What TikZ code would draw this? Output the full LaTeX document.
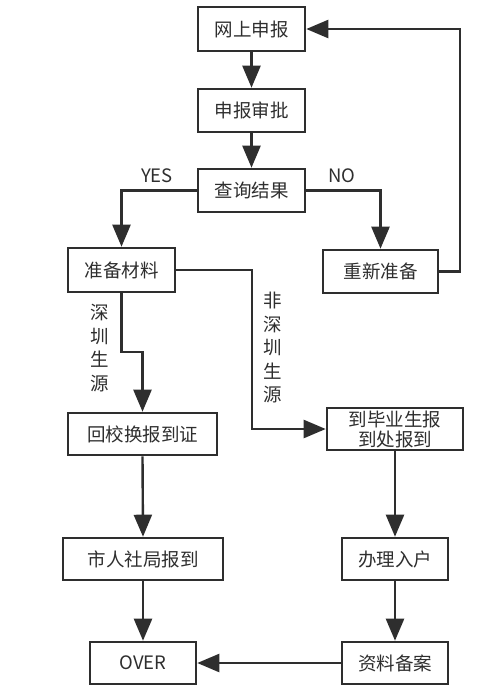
\documentclass[tikz,border=0pt]{standalone}
\usepackage{fontspec}
\setmainfont{Noto Sans CJK SC}
\usetikzlibrary{arrows.meta}
\definecolor{ink}{HTML}{2E2E2E}
\tikzset{
  box/.style={draw=ink, line width=2.6pt, inner sep=0pt, text=ink, font=\fontsize{18.5}{20}\selectfont, align=center},
  arr/.style={draw=ink, line width=2.4pt, -{Triangle[length=22pt,width=18pt]}},
  lbl/.style={text=ink, font=\fontsize{18.5}{23.5}\selectfont, inner sep=0pt, align=center}
}
\begin{document}
\begin{tikzpicture}[x=1pt,y=-1pt]
\useasboundingbox[fill=white] (0,0) rectangle (500,691);
\node[box, minimum width=107pt, minimum height=44pt] (a) at (251.5,29) {网上申报};
\node[box, minimum width=107pt, minimum height=43pt] (b) at (251.5,110.5) {申报审批};
\node[box, minimum width=107pt, minimum height=43pt] (c) at (251.5,190.5) {查询结果};
\node[box, minimum width=107pt, minimum height=44pt] (d) at (121.5,270) {准备材料};
\node[box, minimum width=115pt, minimum height=43pt] (e) at (380.5,271.5) {重新准备};
\node[box, minimum width=149pt, minimum height=42pt] (f) at (142.5,434) {回校换报到证};
\node[box, minimum width=136pt, minimum height=42pt] (g) at (395,429) {到毕业生报\\到处报到};
\node[box, minimum width=160pt, minimum height=42pt] (h) at (143,559) {市人社局报到};
\node[box, minimum width=106pt, minimum height=42pt] (i) at (395,559) {办理入户};
\node[box, minimum width=106pt, minimum height=42pt] (j) at (143,663) {OVER};
\node[box, minimum width=106pt, minimum height=42pt] (k) at (395,663) {资料备案};
\node[lbl] (yes) at (157,176) {YES};
\node[lbl] (no) at (342,176) {NO};
\node[lbl] (sz) at (100,348) {深\\圳\\生\\源};
\node[lbl] (fsz) at (273,348) {非\\深\\圳\\生\\源};
\coordinate (rx) at (460,0);
\coordinate (m1) at (130,352);
\coordinate (m2) at (252,0);
\draw[arr] (a.south) -- (b.north);
\draw[arr] (b.south) -- (c.north);
\draw[arr] (c.west) -| (d.north);
\draw[arr] (c.east) -| (e.north);
\draw[arr] (e.east) -- (e.east -| rx) |- (a.east);
\draw[arr] (d.south) |- (m1) -| (f.north);
\draw[arr] (d.east) -- (d.east -| m2) |- (g.west);
\draw[arr] (f.south) -- (h.north);
\draw[arr] (g.south) -- (i.north);
\draw[arr] (h.south) -- (j.north);
\draw[arr] (i.south) -- (k.north);
\draw[arr] (k.west) -- (j.east);
\end{tikzpicture}
\end{document}
